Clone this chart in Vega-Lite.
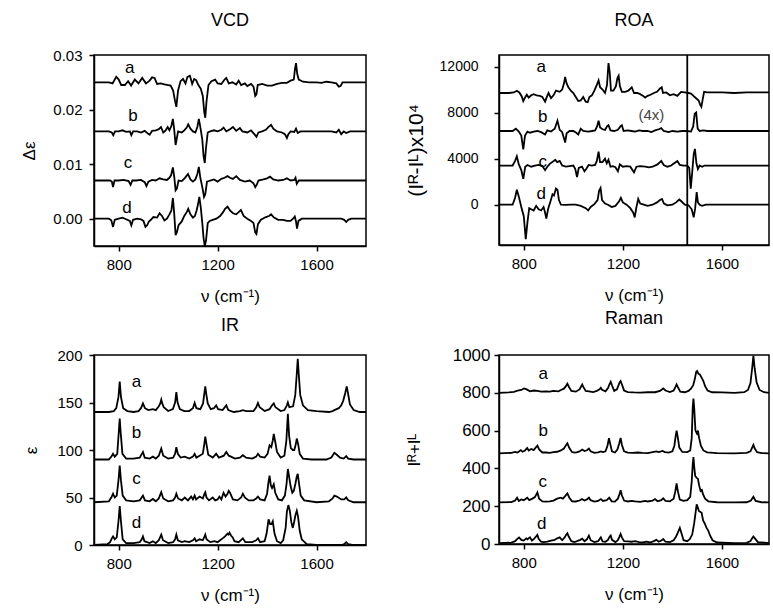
{
"$schema": "https://vega.github.io/schema/vega-lite/v6.json",
"background": "white",
"padding": {"left": 20, "top": 11, "right": 0, "bottom": 0},
"columns": 2,
"spacing": {"row": 109, "column": 133},
"bounds": "flush",
"config": {
 "font": "Liberation Sans",
 "view": {"stroke": "#000", "strokeWidth": 1.5},
 "axis": {"domain": true, "domainColor": "#000", "domainWidth": 1.5, "grid": false, "tickColor": "#000", "tickWidth": 1.5, "tickSize": 5, "labelColor": "#000", "labelFontSize": 15, "labelOverlap": false, "labelBound": false, "titleColor": "#000", "titleFontSize": 17, "titleFontWeight": "normal"},
 "axisX": {"labelPadding": 6, "titlePadding": 16},
 "axisY": {"labelPadding": 7, "titlePadding": 14},
 "title": {"fontSize": 18, "fontWeight": "normal", "color": "#000", "offset": 18},
 "line": {"color": "#000", "strokeWidth": 1.8, "clip": true},
 "text": {"color": "#000", "fontSize": 17}
},
"datasets": {
"vcd": [
{"s":"a","x":700,"y":0.025},{"s":"a","x":760,"y":0.025},{"s":"a","x":775,"y":0.0248},{"s":"a","x":790,"y":0.026},{"s":"a","x":800,"y":0.0255},{"s":"a","x":810,"y":0.0245},{"s":"a","x":825,"y":0.0245},{"s":"a","x":838,"y":0.0252},{"s":"a","x":850,"y":0.0244},{"s":"a","x":865,"y":0.0255},{"s":"a","x":880,"y":0.0248},{"s":"a","x":895,"y":0.0258},{"s":"a","x":910,"y":0.0248},{"s":"a","x":925,"y":0.0253},{"s":"a","x":935,"y":0.0259},{"s":"a","x":945,"y":0.0258},{"s":"a","x":955,"y":0.0247},{"s":"a","x":970,"y":0.0248},{"s":"a","x":985,"y":0.0246},{"s":"a","x":1000,"y":0.0245},{"s":"a","x":1010,"y":0.0244},{"s":"a","x":1020,"y":0.0235},{"s":"a","x":1028,"y":0.0215},{"s":"a","x":1033,"y":0.0205},{"s":"a","x":1040,"y":0.0235},{"s":"a","x":1050,"y":0.0252},{"s":"a","x":1060,"y":0.0256},{"s":"a","x":1070,"y":0.0248},{"s":"a","x":1078,"y":0.026},{"s":"a","x":1088,"y":0.0262},{"s":"a","x":1097,"y":0.0247},{"s":"a","x":1105,"y":0.0256},{"s":"a","x":1113,"y":0.0254},{"s":"a","x":1122,"y":0.0245},{"s":"a","x":1132,"y":0.0238},{"s":"a","x":1140,"y":0.0225},{"s":"a","x":1146,"y":0.0195},{"s":"a","x":1150,"y":0.0185},{"s":"a","x":1155,"y":0.0215},{"s":"a","x":1163,"y":0.0245},{"s":"a","x":1175,"y":0.0252},{"s":"a","x":1190,"y":0.0255},{"s":"a","x":1200,"y":0.0248},{"s":"a","x":1215,"y":0.0247},{"s":"a","x":1228,"y":0.0255},{"s":"a","x":1235,"y":0.0258},{"s":"a","x":1245,"y":0.0248},{"s":"a","x":1260,"y":0.025},{"s":"a","x":1275,"y":0.0246},{"s":"a","x":1285,"y":0.0253},{"s":"a","x":1295,"y":0.0245},{"s":"a","x":1310,"y":0.0248},{"s":"a","x":1320,"y":0.0243},{"s":"a","x":1335,"y":0.0247},{"s":"a","x":1345,"y":0.0242},{"s":"a","x":1352,"y":0.0225},{"s":"a","x":1357,"y":0.0228},{"s":"a","x":1362,"y":0.0245},{"s":"a","x":1380,"y":0.0247},{"s":"a","x":1400,"y":0.0244},{"s":"a","x":1420,"y":0.0244},{"s":"a","x":1440,"y":0.0247},{"s":"a","x":1460,"y":0.0249},{"s":"a","x":1480,"y":0.0249},{"s":"a","x":1495,"y":0.0253},{"s":"a","x":1508,"y":0.0255},{"s":"a","x":1513,"y":0.0275},{"s":"a","x":1517,"y":0.0285},{"s":"a","x":1522,"y":0.0265},{"s":"a","x":1528,"y":0.0255},{"s":"a","x":1545,"y":0.0251},{"s":"a","x":1570,"y":0.025},{"s":"a","x":1600,"y":0.025},{"s":"a","x":1620,"y":0.0249},{"s":"a","x":1640,"y":0.0251},{"s":"a","x":1660,"y":0.025},{"s":"a","x":1680,"y":0.0248},{"s":"a","x":1690,"y":0.0242},{"s":"a","x":1697,"y":0.0243},{"s":"a","x":1705,"y":0.025},{"s":"a","x":1740,"y":0.025},{"s":"a","x":1800,"y":0.025},
{"s":"b","x":700,"y":0.016},{"s":"b","x":760,"y":0.016},{"s":"b","x":772,"y":0.0158},{"s":"b","x":778,"y":0.0153},{"s":"b","x":785,"y":0.016},{"s":"b","x":800,"y":0.016},{"s":"b","x":815,"y":0.0162},{"s":"b","x":830,"y":0.0159},{"s":"b","x":845,"y":0.016},{"s":"b","x":851,"y":0.0153},{"s":"b","x":858,"y":0.016},{"s":"b","x":875,"y":0.016},{"s":"b","x":890,"y":0.0158},{"s":"b","x":905,"y":0.0161},{"s":"b","x":918,"y":0.0156},{"s":"b","x":925,"y":0.0154},{"s":"b","x":935,"y":0.0161},{"s":"b","x":950,"y":0.0162},{"s":"b","x":962,"y":0.0164},{"s":"b","x":971,"y":0.0168},{"s":"b","x":980,"y":0.0158},{"s":"b","x":990,"y":0.0162},{"s":"b","x":998,"y":0.0168},{"s":"b","x":1005,"y":0.0162},{"s":"b","x":1013,"y":0.017},{"s":"b","x":1019,"y":0.0183},{"s":"b","x":1024,"y":0.0165},{"s":"b","x":1030,"y":0.0135},{"s":"b","x":1034,"y":0.0145},{"s":"b","x":1040,"y":0.016},{"s":"b","x":1055,"y":0.0158},{"s":"b","x":1065,"y":0.0162},{"s":"b","x":1075,"y":0.0167},{"s":"b","x":1081,"y":0.0173},{"s":"b","x":1090,"y":0.0165},{"s":"b","x":1100,"y":0.016},{"s":"b","x":1110,"y":0.0158},{"s":"b","x":1118,"y":0.0168},{"s":"b","x":1124,"y":0.0183},{"s":"b","x":1130,"y":0.0168},{"s":"b","x":1138,"y":0.0145},{"s":"b","x":1143,"y":0.0115},{"s":"b","x":1148,"y":0.0102},{"s":"b","x":1153,"y":0.013},{"s":"b","x":1160,"y":0.0158},{"s":"b","x":1170,"y":0.016},{"s":"b","x":1185,"y":0.0162},{"s":"b","x":1200,"y":0.016},{"s":"b","x":1215,"y":0.0163},{"s":"b","x":1224,"y":0.0167},{"s":"b","x":1235,"y":0.016},{"s":"b","x":1250,"y":0.0164},{"s":"b","x":1262,"y":0.0168},{"s":"b","x":1275,"y":0.0161},{"s":"b","x":1290,"y":0.0166},{"s":"b","x":1300,"y":0.016},{"s":"b","x":1320,"y":0.0158},{"s":"b","x":1335,"y":0.0162},{"s":"b","x":1350,"y":0.0154},{"s":"b","x":1357,"y":0.015},{"s":"b","x":1365,"y":0.0158},{"s":"b","x":1380,"y":0.016},{"s":"b","x":1395,"y":0.0163},{"s":"b","x":1405,"y":0.0168},{"s":"b","x":1416,"y":0.0172},{"s":"b","x":1425,"y":0.0165},{"s":"b","x":1440,"y":0.016},{"s":"b","x":1460,"y":0.0158},{"s":"b","x":1472,"y":0.0155},{"s":"b","x":1480,"y":0.0148},{"s":"b","x":1486,"y":0.0155},{"s":"b","x":1495,"y":0.016},{"s":"b","x":1510,"y":0.0159},{"s":"b","x":1517,"y":0.0165},{"s":"b","x":1524,"y":0.0157},{"s":"b","x":1535,"y":0.016},{"s":"b","x":1600,"y":0.016},{"s":"b","x":1660,"y":0.016},{"s":"b","x":1680,"y":0.0158},{"s":"b","x":1690,"y":0.0163},{"s":"b","x":1700,"y":0.0155},{"s":"b","x":1710,"y":0.016},{"s":"b","x":1720,"y":0.0157},{"s":"b","x":1735,"y":0.016},{"s":"b","x":1800,"y":0.016},
{"s":"c","x":700,"y":0.007},{"s":"c","x":765,"y":0.007},{"s":"c","x":772,"y":0.0068},{"s":"c","x":777,"y":0.0058},{"s":"c","x":783,"y":0.007},{"s":"c","x":800,"y":0.007},{"s":"c","x":820,"y":0.0071},{"s":"c","x":840,"y":0.0069},{"s":"c","x":848,"y":0.0062},{"s":"c","x":855,"y":0.007},{"s":"c","x":870,"y":0.007},{"s":"c","x":890,"y":0.0071},{"s":"c","x":905,"y":0.0067},{"s":"c","x":912,"y":0.006},{"s":"c","x":920,"y":0.0068},{"s":"c","x":935,"y":0.0071},{"s":"c","x":950,"y":0.007},{"s":"c","x":965,"y":0.0074},{"s":"c","x":980,"y":0.0072},{"s":"c","x":995,"y":0.0071},{"s":"c","x":1005,"y":0.0075},{"s":"c","x":1012,"y":0.008},{"s":"c","x":1019,"y":0.0094},{"s":"c","x":1025,"y":0.0075},{"s":"c","x":1030,"y":0.0052},{"s":"c","x":1035,"y":0.0055},{"s":"c","x":1042,"y":0.007},{"s":"c","x":1055,"y":0.0069},{"s":"c","x":1068,"y":0.0075},{"s":"c","x":1080,"y":0.0082},{"s":"c","x":1090,"y":0.0072},{"s":"c","x":1100,"y":0.0068},{"s":"c","x":1110,"y":0.0072},{"s":"c","x":1118,"y":0.0082},{"s":"c","x":1124,"y":0.0095},{"s":"c","x":1130,"y":0.0075},{"s":"c","x":1138,"y":0.0058},{"s":"c","x":1145,"y":0.004},{"s":"c","x":1150,"y":0.0045},{"s":"c","x":1157,"y":0.0068},{"s":"c","x":1170,"y":0.007},{"s":"c","x":1185,"y":0.0072},{"s":"c","x":1200,"y":0.0068},{"s":"c","x":1215,"y":0.0073},{"s":"c","x":1228,"y":0.0075},{"s":"c","x":1240,"y":0.0078},{"s":"c","x":1250,"y":0.0075},{"s":"c","x":1262,"y":0.0073},{"s":"c","x":1275,"y":0.0078},{"s":"c","x":1290,"y":0.0071},{"s":"c","x":1310,"y":0.0068},{"s":"c","x":1330,"y":0.007},{"s":"c","x":1345,"y":0.0065},{"s":"c","x":1352,"y":0.0058},{"s":"c","x":1358,"y":0.0062},{"s":"c","x":1365,"y":0.007},{"s":"c","x":1385,"y":0.0072},{"s":"c","x":1400,"y":0.0074},{"s":"c","x":1412,"y":0.0077},{"s":"c","x":1425,"y":0.0072},{"s":"c","x":1445,"y":0.007},{"s":"c","x":1465,"y":0.0071},{"s":"c","x":1480,"y":0.0074},{"s":"c","x":1495,"y":0.007},{"s":"c","x":1510,"y":0.0071},{"s":"c","x":1515,"y":0.0075},{"s":"c","x":1520,"y":0.0064},{"s":"c","x":1528,"y":0.007},{"s":"c","x":1600,"y":0.007},{"s":"c","x":1800,"y":0.007},
{"s":"d","x":700,"y":0},{"s":"d","x":760,"y":0},{"s":"d","x":770,"y":-0.0003},{"s":"d","x":777,"y":-0.0015},{"s":"d","x":784,"y":-0.0002},{"s":"d","x":800,"y":0},{"s":"d","x":815,"y":0.0002},{"s":"d","x":830,"y":-0.0001},{"s":"d","x":845,"y":-0.0004},{"s":"d","x":851,"y":-0.0012},{"s":"d","x":858,"y":-0.0002},{"s":"d","x":875,"y":0},{"s":"d","x":890,"y":-0.0001},{"s":"d","x":900,"y":-0.0004},{"s":"d","x":908,"y":-0.0015},{"s":"d","x":915,"y":-0.0012},{"s":"d","x":922,"y":-0.0005},{"s":"d","x":930,"y":-0.0002},{"s":"d","x":940,"y":0.0003},{"s":"d","x":955,"y":0.0002},{"s":"d","x":965,"y":0.001},{"s":"d","x":975,"y":0.0005},{"s":"d","x":985,"y":-0.0003},{"s":"d","x":995,"y":0},{"s":"d","x":1005,"y":0.0008},{"s":"d","x":1013,"y":0.0015},{"s":"d","x":1019,"y":0.0038},{"s":"d","x":1024,"y":0.0012},{"s":"d","x":1030,"y":-0.003},{"s":"d","x":1035,"y":-0.0025},{"s":"d","x":1042,"y":-0.0012},{"s":"d","x":1055,"y":-0.0005},{"s":"d","x":1065,"y":0.0005},{"s":"d","x":1075,"y":0.0012},{"s":"d","x":1081,"y":0.0018},{"s":"d","x":1090,"y":0.0008},{"s":"d","x":1100,"y":0.0002},{"s":"d","x":1108,"y":0.0005},{"s":"d","x":1115,"y":0.0015},{"s":"d","x":1120,"y":0.0025},{"s":"d","x":1126,"y":0.004},{"s":"d","x":1132,"y":0.002},{"s":"d","x":1138,"y":-0.0008},{"s":"d","x":1143,"y":-0.0035},{"s":"d","x":1148,"y":-0.005},{"s":"d","x":1153,"y":-0.004},{"s":"d","x":1160,"y":-0.0008},{"s":"d","x":1168,"y":-0.0004},{"s":"d","x":1180,"y":-0.0002},{"s":"d","x":1195,"y":0},{"s":"d","x":1210,"y":0.0005},{"s":"d","x":1222,"y":0.0012},{"s":"d","x":1230,"y":0.0018},{"s":"d","x":1240,"y":0.0022},{"s":"d","x":1250,"y":0.0015},{"s":"d","x":1262,"y":0.001},{"s":"d","x":1275,"y":0.0008},{"s":"d","x":1285,"y":0.0012},{"s":"d","x":1294,"y":0.0016},{"s":"d","x":1305,"y":0.0005},{"s":"d","x":1320,"y":0},{"s":"d","x":1335,"y":-0.0004},{"s":"d","x":1345,"y":-0.0008},{"s":"d","x":1352,"y":-0.0025},{"s":"d","x":1357,"y":-0.0028},{"s":"d","x":1363,"y":-0.001},{"s":"d","x":1375,"y":-0.0002},{"s":"d","x":1395,"y":0.0003},{"s":"d","x":1408,"y":0.0005},{"s":"d","x":1416,"y":0.0008},{"s":"d","x":1428,"y":0.0002},{"s":"d","x":1445,"y":-0.0002},{"s":"d","x":1465,"y":-0.0002},{"s":"d","x":1480,"y":-0.0004},{"s":"d","x":1495,"y":-0.0004},{"s":"d","x":1505,"y":0},{"s":"d","x":1512,"y":0.0004},{"s":"d","x":1517,"y":-0.0005},{"s":"d","x":1521,"y":-0.0018},{"s":"d","x":1527,"y":-0.0004},{"s":"d","x":1540,"y":0},{"s":"d","x":1600,"y":0},{"s":"d","x":1700,"y":0},{"s":"d","x":1712,"y":-0.0002},{"s":"d","x":1720,"y":-0.0006},{"s":"d","x":1728,"y":-0.0002},{"s":"d","x":1740,"y":0},{"s":"d","x":1800,"y":0}
],
"roa": [
{"s":"a","x":700,"y":9700},{"s":"a","x":740,"y":9700},{"s":"a","x":760,"y":9750},{"s":"a","x":772,"y":9900},{"s":"a","x":782,"y":9750},{"s":"a","x":792,"y":9400},{"s":"a","x":798,"y":9000},{"s":"a","x":805,"y":9300},{"s":"a","x":812,"y":9550},{"s":"a","x":820,"y":9300},{"s":"a","x":830,"y":9500},{"s":"a","x":840,"y":9600},{"s":"a","x":852,"y":9500},{"s":"a","x":865,"y":9450},{"s":"a","x":875,"y":9350},{"s":"a","x":886,"y":8950},{"s":"a","x":892,"y":9300},{"s":"a","x":900,"y":9700},{"s":"a","x":910,"y":9250},{"s":"a","x":920,"y":9500},{"s":"a","x":930,"y":9900},{"s":"a","x":945,"y":9800},{"s":"a","x":955,"y":10000},{"s":"a","x":962,"y":10500},{"s":"a","x":967,"y":11100},{"s":"a","x":972,"y":10600},{"s":"a","x":980,"y":10200},{"s":"a","x":990,"y":9900},{"s":"a","x":1000,"y":9700},{"s":"a","x":1010,"y":9350},{"s":"a","x":1020,"y":9000},{"s":"a","x":1030,"y":9050},{"s":"a","x":1040,"y":9350},{"s":"a","x":1050,"y":8950},{"s":"a","x":1058,"y":8900},{"s":"a","x":1065,"y":9350},{"s":"a","x":1075,"y":9500},{"s":"a","x":1085,"y":9900},{"s":"a","x":1095,"y":10400},{"s":"a","x":1102,"y":10800},{"s":"a","x":1108,"y":10200},{"s":"a","x":1118,"y":10000},{"s":"a","x":1128,"y":9700},{"s":"a","x":1136,"y":10400},{"s":"a","x":1142,"y":12300},{"s":"a","x":1147,"y":11500},{"s":"a","x":1152,"y":9900},{"s":"a","x":1162,"y":9900},{"s":"a","x":1172,"y":10300},{"s":"a","x":1178,"y":11000},{"s":"a","x":1183,"y":11200},{"s":"a","x":1188,"y":10300},{"s":"a","x":1196,"y":9800},{"s":"a","x":1210,"y":9800},{"s":"a","x":1222,"y":9900},{"s":"a","x":1236,"y":10200},{"s":"a","x":1245,"y":9700},{"s":"a","x":1258,"y":9700},{"s":"a","x":1270,"y":9600},{"s":"a","x":1282,"y":9450},{"s":"a","x":1290,"y":9300},{"s":"a","x":1300,"y":9450},{"s":"a","x":1312,"y":9550},{"s":"a","x":1325,"y":9700},{"s":"a","x":1338,"y":9800},{"s":"a","x":1350,"y":10100},{"s":"a","x":1357,"y":10200},{"s":"a","x":1362,"y":9700},{"s":"a","x":1375,"y":9750},{"s":"a","x":1390,"y":9500},{"s":"a","x":1405,"y":9600},{"s":"a","x":1420,"y":9450},{"s":"a","x":1435,"y":9800},{"s":"a","x":1450,"y":9750},{"s":"a","x":1465,"y":9700},{"s":"a","x":1475,"y":9650},{"s":"a","x":1483,"y":9500},{"s":"a","x":1490,"y":9350},{"s":"a","x":1498,"y":9200},{"s":"a","x":1506,"y":9050},{"s":"a","x":1512,"y":8700},{"s":"a","x":1517,"y":8500},{"s":"a","x":1522,"y":9100},{"s":"a","x":1528,"y":9800},{"s":"a","x":1540,"y":9750},{"s":"a","x":1600,"y":9750},{"s":"a","x":1650,"y":9700},{"s":"a","x":1700,"y":9750},{"s":"a","x":1790,"y":9750},
{"s":"b","x":700,"y":6400},{"s":"b","x":755,"y":6400},{"s":"b","x":768,"y":6600},{"s":"b","x":780,"y":6350},{"s":"b","x":790,"y":6000},{"s":"b","x":798,"y":4800},{"s":"b","x":805,"y":6000},{"s":"b","x":815,"y":6350},{"s":"b","x":825,"y":6250},{"s":"b","x":840,"y":6350},{"s":"b","x":855,"y":6400},{"s":"b","x":870,"y":6300},{"s":"b","x":886,"y":6100},{"s":"b","x":895,"y":6450},{"s":"b","x":910,"y":6350},{"s":"b","x":925,"y":6600},{"s":"b","x":936,"y":7300},{"s":"b","x":945,"y":6500},{"s":"b","x":955,"y":6300},{"s":"b","x":962,"y":5800},{"s":"b","x":967,"y":5400},{"s":"b","x":973,"y":6200},{"s":"b","x":985,"y":6400},{"s":"b","x":1000,"y":6400},{"s":"b","x":1012,"y":6250},{"s":"b","x":1020,"y":6100},{"s":"b","x":1030,"y":6600},{"s":"b","x":1040,"y":6400},{"s":"b","x":1060,"y":6350},{"s":"b","x":1075,"y":6400},{"s":"b","x":1088,"y":6450},{"s":"b","x":1096,"y":6800},{"s":"b","x":1102,"y":7300},{"s":"b","x":1108,"y":6700},{"s":"b","x":1118,"y":6550},{"s":"b","x":1128,"y":6500},{"s":"b","x":1136,"y":6800},{"s":"b","x":1142,"y":6900},{"s":"b","x":1150,"y":6450},{"s":"b","x":1165,"y":6400},{"s":"b","x":1180,"y":6500},{"s":"b","x":1190,"y":6800},{"s":"b","x":1196,"y":6900},{"s":"b","x":1203,"y":6400},{"s":"b","x":1220,"y":6450},{"s":"b","x":1235,"y":6400},{"s":"b","x":1250,"y":6350},{"s":"b","x":1265,"y":6450},{"s":"b","x":1280,"y":6400},{"s":"b","x":1300,"y":6400},{"s":"b","x":1315,"y":6300},{"s":"b","x":1330,"y":6450},{"s":"b","x":1345,"y":6550},{"s":"b","x":1355,"y":6650},{"s":"b","x":1365,"y":6400},{"s":"b","x":1385,"y":6300},{"s":"b","x":1400,"y":6400},{"s":"b","x":1420,"y":6350},{"s":"b","x":1440,"y":6400},{"s":"b","x":1460,"y":6400},{"s":"b","x":1475,"y":6350},{"s":"b","x":1484,"y":6800},{"s":"b","x":1490,"y":7900},{"s":"b","x":1496,"y":8000},{"s":"b","x":1502,"y":6600},{"s":"b","x":1510,"y":6400},{"s":"b","x":1525,"y":6450},{"s":"b","x":1540,"y":6400},{"s":"b","x":1790,"y":6400},
{"s":"c","x":700,"y":3400},{"s":"c","x":755,"y":3400},{"s":"c","x":765,"y":3800},{"s":"c","x":772,"y":4200},{"s":"c","x":780,"y":3500},{"s":"c","x":790,"y":3000},{"s":"c","x":798,"y":2250},{"s":"c","x":806,"y":3300},{"s":"c","x":815,"y":3450},{"s":"c","x":830,"y":3300},{"s":"c","x":845,"y":3400},{"s":"c","x":860,"y":3450},{"s":"c","x":875,"y":3350},{"s":"c","x":886,"y":3000},{"s":"c","x":895,"y":3300},{"s":"c","x":905,"y":3550},{"s":"c","x":915,"y":3700},{"s":"c","x":927,"y":3900},{"s":"c","x":935,"y":3700},{"s":"c","x":945,"y":3800},{"s":"c","x":955,"y":3400},{"s":"c","x":970,"y":3300},{"s":"c","x":985,"y":3350},{"s":"c","x":1000,"y":3400},{"s":"c","x":1008,"y":3100},{"s":"c","x":1015,"y":2400},{"s":"c","x":1022,"y":3200},{"s":"c","x":1035,"y":3300},{"s":"c","x":1045,"y":2900},{"s":"c","x":1052,"y":3100},{"s":"c","x":1062,"y":3450},{"s":"c","x":1075,"y":3400},{"s":"c","x":1088,"y":3450},{"s":"c","x":1095,"y":3800},{"s":"c","x":1102,"y":4600},{"s":"c","x":1108,"y":3700},{"s":"c","x":1118,"y":3700},{"s":"c","x":1128,"y":4000},{"s":"c","x":1135,"y":3600},{"s":"c","x":1142,"y":3900},{"s":"c","x":1150,"y":3300},{"s":"c","x":1160,"y":3350},{"s":"c","x":1170,"y":3250},{"s":"c","x":1180,"y":2900},{"s":"c","x":1188,"y":3500},{"s":"c","x":1200,"y":3300},{"s":"c","x":1215,"y":3350},{"s":"c","x":1230,"y":3300},{"s":"c","x":1245,"y":2800},{"s":"c","x":1255,"y":3300},{"s":"c","x":1270,"y":3350},{"s":"c","x":1290,"y":3300},{"s":"c","x":1305,"y":3250},{"s":"c","x":1320,"y":3300},{"s":"c","x":1340,"y":3500},{"s":"c","x":1355,"y":3800},{"s":"c","x":1365,"y":3450},{"s":"c","x":1380,"y":3300},{"s":"c","x":1395,"y":3400},{"s":"c","x":1410,"y":3650},{"s":"c","x":1420,"y":3800},{"s":"c","x":1430,"y":3450},{"s":"c","x":1445,"y":3400},{"s":"c","x":1460,"y":3400},{"s":"c","x":1468,"y":3200},{"s":"c","x":1474,"y":1400},{"s":"c","x":1480,"y":2800},{"s":"c","x":1486,"y":4400},{"s":"c","x":1491,"y":4850},{"s":"c","x":1497,"y":3600},{"s":"c","x":1503,"y":3100},{"s":"c","x":1510,"y":3400},{"s":"c","x":1520,"y":3300},{"s":"c","x":1530,"y":3400},{"s":"c","x":1790,"y":3400},
{"s":"d","x":700,"y":0},{"s":"d","x":755,"y":0},{"s":"d","x":765,"y":600},{"s":"d","x":772,"y":1300},{"s":"d","x":780,"y":700},{"s":"d","x":790,"y":-200},{"s":"d","x":800,"y":-1000},{"s":"d","x":808,"y":-3000},{"s":"d","x":815,"y":-1500},{"s":"d","x":822,"y":-300},{"s":"d","x":830,"y":-400},{"s":"d","x":840,"y":-500},{"s":"d","x":850,"y":-100},{"s":"d","x":860,"y":-400},{"s":"d","x":870,"y":-500},{"s":"d","x":880,"y":-200},{"s":"d","x":885,"y":-600},{"s":"d","x":891,"y":-1200},{"s":"d","x":898,"y":-400},{"s":"d","x":908,"y":300},{"s":"d","x":916,"y":900},{"s":"d","x":922,"y":800},{"s":"d","x":930,"y":1400},{"s":"d","x":936,"y":1300},{"s":"d","x":942,"y":400},{"s":"d","x":950,"y":0},{"s":"d","x":970,"y":-20},{"s":"d","x":990,"y":0},{"s":"d","x":1010,"y":0},{"s":"d","x":1030,"y":-100},{"s":"d","x":1050,"y":-300},{"s":"d","x":1060,"y":-500},{"s":"d","x":1070,"y":-200},{"s":"d","x":1085,"y":50},{"s":"d","x":1098,"y":400},{"s":"d","x":1104,"y":1200},{"s":"d","x":1110,"y":1450},{"s":"d","x":1116,"y":400},{"s":"d","x":1128,"y":100},{"s":"d","x":1140,"y":0},{"s":"d","x":1155,"y":-200},{"s":"d","x":1170,"y":-100},{"s":"d","x":1185,"y":300},{"s":"d","x":1192,"y":600},{"s":"d","x":1200,"y":200},{"s":"d","x":1215,"y":0},{"s":"d","x":1230,"y":-300},{"s":"d","x":1242,"y":-700},{"s":"d","x":1248,"y":-1100},{"s":"d","x":1254,"y":-300},{"s":"d","x":1262,"y":500},{"s":"d","x":1270,"y":100},{"s":"d","x":1285,"y":0},{"s":"d","x":1300,"y":-100},{"s":"d","x":1320,"y":0},{"s":"d","x":1338,"y":200},{"s":"d","x":1350,"y":400},{"s":"d","x":1358,"y":500},{"s":"d","x":1366,"y":100},{"s":"d","x":1380,"y":-50},{"s":"d","x":1400,"y":0},{"s":"d","x":1415,"y":200},{"s":"d","x":1428,"y":450},{"s":"d","x":1436,"y":300},{"s":"d","x":1450,"y":0},{"s":"d","x":1465,"y":-50},{"s":"d","x":1478,"y":-400},{"s":"d","x":1486,"y":-1100},{"s":"d","x":1492,"y":-300},{"s":"d","x":1498,"y":1100},{"s":"d","x":1503,"y":200},{"s":"d","x":1510,"y":0},{"s":"d","x":1520,"y":-100},{"s":"d","x":1535,"y":0},{"s":"d","x":1790,"y":0}
],
"ir": [
{"s":"a","x":700,"y":140},{"s":"a","x":760,"y":140},{"s":"a","x":780,"y":141},{"s":"a","x":790,"y":144},{"s":"a","x":799,"y":156},{"s":"a","x":804,"y":172},{"s":"a","x":809,"y":156},{"s":"a","x":818,"y":144},{"s":"a","x":835,"y":141},{"s":"a","x":860,"y":140},{"s":"a","x":880,"y":141},{"s":"a","x":890,"y":144},{"s":"a","x":898,"y":149},{"s":"a","x":906,"y":144},{"s":"a","x":920,"y":142},{"s":"a","x":938,"y":143},{"s":"a","x":950,"y":142},{"s":"a","x":962,"y":146},{"s":"a","x":968,"y":149},{"s":"a","x":972,"y":153},{"s":"a","x":976,"y":149},{"s":"a","x":982,"y":145},{"s":"a","x":1000,"y":141},{"s":"a","x":1019,"y":143},{"s":"a","x":1028,"y":150},{"s":"a","x":1033,"y":161},{"s":"a","x":1038,"y":150},{"s":"a","x":1047,"y":143},{"s":"a","x":1065,"y":141},{"s":"a","x":1085,"y":141},{"s":"a","x":1100,"y":144},{"s":"a","x":1107,"y":149.5},{"s":"a","x":1114,"y":144},{"s":"a","x":1130,"y":143},{"s":"a","x":1141,"y":149},{"s":"a","x":1146,"y":159},{"s":"a","x":1150,"y":167},{"s":"a","x":1154,"y":159},{"s":"a","x":1160,"y":149},{"s":"a","x":1172,"y":143},{"s":"a","x":1185,"y":144},{"s":"a","x":1194,"y":147},{"s":"a","x":1202,"y":143},{"s":"a","x":1220,"y":142},{"s":"a","x":1235,"y":147},{"s":"a","x":1243,"y":142},{"s":"a","x":1265,"y":140},{"s":"a","x":1290,"y":141},{"s":"a","x":1302,"y":142},{"s":"a","x":1315,"y":141},{"s":"a","x":1345,"y":141},{"s":"a","x":1356,"y":145},{"s":"a","x":1363,"y":149.5},{"s":"a","x":1370,"y":145},{"s":"a","x":1390,"y":141},{"s":"a","x":1410,"y":143},{"s":"a","x":1420,"y":147},{"s":"a","x":1427,"y":149},{"s":"a","x":1434,"y":145},{"s":"a","x":1455,"y":141},{"s":"a","x":1470,"y":142},{"s":"a","x":1480,"y":147},{"s":"a","x":1484,"y":150},{"s":"a","x":1490,"y":145},{"s":"a","x":1505,"y":146},{"s":"a","x":1514,"y":158},{"s":"a","x":1520,"y":180},{"s":"a","x":1524,"y":196},{"s":"a","x":1528,"y":180},{"s":"a","x":1534,"y":158},{"s":"a","x":1545,"y":147},{"s":"a","x":1565,"y":142},{"s":"a","x":1600,"y":141},{"s":"a","x":1650,"y":140},{"s":"a","x":1665,"y":141},{"s":"a","x":1672,"y":142},{"s":"a","x":1690,"y":144},{"s":"a","x":1700,"y":147},{"s":"a","x":1708,"y":152},{"s":"a","x":1716,"y":160},{"s":"a","x":1722,"y":167},{"s":"a","x":1727,"y":160},{"s":"a","x":1735,"y":148},{"s":"a","x":1750,"y":142},{"s":"a","x":1775,"y":140},{"s":"a","x":1800,"y":140},
{"s":"b","x":700,"y":90},{"s":"b","x":760,"y":90},{"s":"b","x":770,"y":93},{"s":"b","x":777,"y":96},{"s":"b","x":784,"y":93},{"s":"b","x":794,"y":96},{"s":"b","x":800,"y":118},{"s":"b","x":804,"y":133},{"s":"b","x":808,"y":118},{"s":"b","x":815,"y":96},{"s":"b","x":830,"y":91},{"s":"b","x":860,"y":91},{"s":"b","x":885,"y":92},{"s":"b","x":898,"y":98},{"s":"b","x":905,"y":92},{"s":"b","x":925,"y":91},{"s":"b","x":938,"y":93},{"s":"b","x":950,"y":91},{"s":"b","x":962,"y":94},{"s":"b","x":972,"y":101.5},{"s":"b","x":980,"y":94},{"s":"b","x":1000,"y":91},{"s":"b","x":1020,"y":92},{"s":"b","x":1028,"y":96},{"s":"b","x":1033,"y":103},{"s":"b","x":1039,"y":96},{"s":"b","x":1050,"y":92},{"s":"b","x":1067,"y":93},{"s":"b","x":1085,"y":91},{"s":"b","x":1100,"y":93},{"s":"b","x":1107,"y":96},{"s":"b","x":1114,"y":92},{"s":"b","x":1127,"y":94},{"s":"b","x":1140,"y":96},{"s":"b","x":1146,"y":106},{"s":"b","x":1150,"y":114},{"s":"b","x":1155,"y":106},{"s":"b","x":1162,"y":95},{"s":"b","x":1180,"y":92},{"s":"b","x":1194,"y":96},{"s":"b","x":1205,"y":92},{"s":"b","x":1225,"y":94},{"s":"b","x":1235,"y":98},{"s":"b","x":1245,"y":94},{"s":"b","x":1254,"y":93},{"s":"b","x":1270,"y":91},{"s":"b","x":1290,"y":92},{"s":"b","x":1302,"y":94.5},{"s":"b","x":1315,"y":92},{"s":"b","x":1340,"y":91},{"s":"b","x":1356,"y":93},{"s":"b","x":1363,"y":96},{"s":"b","x":1372,"y":93},{"s":"b","x":1390,"y":92},{"s":"b","x":1402,"y":96},{"s":"b","x":1410,"y":105},{"s":"b","x":1417,"y":103},{"s":"b","x":1423,"y":110},{"s":"b","x":1427,"y":117},{"s":"b","x":1432,"y":110},{"s":"b","x":1440,"y":98},{"s":"b","x":1455,"y":92},{"s":"b","x":1470,"y":94},{"s":"b","x":1478,"y":110},{"s":"b","x":1484,"y":138},{"s":"b","x":1489,"y":115},{"s":"b","x":1496,"y":102},{"s":"b","x":1504,"y":100},{"s":"b","x":1510,"y":100},{"s":"b","x":1516,"y":106},{"s":"b","x":1520,"y":112},{"s":"b","x":1525,"y":107},{"s":"b","x":1532,"y":96},{"s":"b","x":1545,"y":91},{"s":"b","x":1580,"y":90},{"s":"b","x":1640,"y":90},{"s":"b","x":1660,"y":92},{"s":"b","x":1672,"y":97},{"s":"b","x":1682,"y":95},{"s":"b","x":1695,"y":92},{"s":"b","x":1710,"y":91},{"s":"b","x":1720,"y":93.5},{"s":"b","x":1728,"y":91},{"s":"b","x":1750,"y":90},{"s":"b","x":1800,"y":90},
{"s":"c","x":700,"y":45},{"s":"c","x":760,"y":46},{"s":"c","x":770,"y":50},{"s":"c","x":777,"y":54},{"s":"c","x":784,"y":50},{"s":"c","x":792,"y":52},{"s":"c","x":799,"y":68},{"s":"c","x":804,"y":83.5},{"s":"c","x":809,"y":68},{"s":"c","x":816,"y":52},{"s":"c","x":830,"y":47},{"s":"c","x":860,"y":46},{"s":"c","x":885,"y":47},{"s":"c","x":898,"y":52},{"s":"c","x":906,"y":47},{"s":"c","x":925,"y":46},{"s":"c","x":938,"y":48.5},{"s":"c","x":950,"y":46},{"s":"c","x":962,"y":49},{"s":"c","x":972,"y":55.5},{"s":"c","x":980,"y":49},{"s":"c","x":1000,"y":46},{"s":"c","x":1020,"y":47},{"s":"c","x":1028,"y":50},{"s":"c","x":1033,"y":54},{"s":"c","x":1040,"y":49},{"s":"c","x":1055,"y":47},{"s":"c","x":1067,"y":50},{"s":"c","x":1080,"y":47},{"s":"c","x":1093,"y":51},{"s":"c","x":1100,"y":48},{"s":"c","x":1107,"y":52},{"s":"c","x":1113,"y":48},{"s":"c","x":1127,"y":51},{"s":"c","x":1140,"y":49},{"s":"c","x":1147,"y":54},{"s":"c","x":1150,"y":55.5},{"s":"c","x":1155,"y":50},{"s":"c","x":1165,"y":47},{"s":"c","x":1180,"y":50},{"s":"c","x":1190,"y":47},{"s":"c","x":1200,"y":48},{"s":"c","x":1207,"y":51},{"s":"c","x":1215,"y":48},{"s":"c","x":1224,"y":55},{"s":"c","x":1232,"y":51},{"s":"c","x":1240,"y":54},{"s":"c","x":1245,"y":57},{"s":"c","x":1250,"y":55},{"s":"c","x":1255,"y":52},{"s":"c","x":1262,"y":48},{"s":"c","x":1280,"y":47},{"s":"c","x":1295,"y":50},{"s":"c","x":1302,"y":54},{"s":"c","x":1310,"y":50},{"s":"c","x":1325,"y":47},{"s":"c","x":1345,"y":47},{"s":"c","x":1356,"y":49},{"s":"c","x":1363,"y":51},{"s":"c","x":1372,"y":48},{"s":"c","x":1390,"y":47},{"s":"c","x":1400,"y":54},{"s":"c","x":1405,"y":65},{"s":"c","x":1410,"y":73},{"s":"c","x":1415,"y":63},{"s":"c","x":1420,"y":60},{"s":"c","x":1427,"y":64},{"s":"c","x":1433,"y":55},{"s":"c","x":1445,"y":48},{"s":"c","x":1460,"y":47},{"s":"c","x":1472,"y":52},{"s":"c","x":1479,"y":65},{"s":"c","x":1484,"y":80},{"s":"c","x":1489,"y":72},{"s":"c","x":1495,"y":62},{"s":"c","x":1502,"y":55},{"s":"c","x":1508,"y":57},{"s":"c","x":1515,"y":65},{"s":"c","x":1520,"y":72},{"s":"c","x":1524,"y":75},{"s":"c","x":1529,"y":65},{"s":"c","x":1536,"y":52},{"s":"c","x":1550,"y":47},{"s":"c","x":1600,"y":45},{"s":"c","x":1650,"y":46},{"s":"c","x":1665,"y":49},{"s":"c","x":1672,"y":52},{"s":"c","x":1682,"y":51},{"s":"c","x":1700,"y":48},{"s":"c","x":1712,"y":48},{"s":"c","x":1720,"y":50},{"s":"c","x":1728,"y":47},{"s":"c","x":1750,"y":45},{"s":"c","x":1800,"y":45},
{"s":"d","x":700,"y":0},{"s":"d","x":755,"y":1},{"s":"d","x":765,"y":3},{"s":"d","x":772,"y":7},{"s":"d","x":777,"y":9},{"s":"d","x":784,"y":6},{"s":"d","x":792,"y":8},{"s":"d","x":799,"y":25},{"s":"d","x":804,"y":41},{"s":"d","x":809,"y":25},{"s":"d","x":816,"y":6},{"s":"d","x":830,"y":2},{"s":"d","x":860,"y":2},{"s":"d","x":885,"y":3},{"s":"d","x":893,"y":6},{"s":"d","x":898,"y":9},{"s":"d","x":904,"y":4},{"s":"d","x":925,"y":2},{"s":"d","x":938,"y":4},{"s":"d","x":950,"y":2},{"s":"d","x":962,"y":5},{"s":"d","x":972,"y":11},{"s":"d","x":979,"y":5},{"s":"d","x":1000,"y":2},{"s":"d","x":1020,"y":3},{"s":"d","x":1028,"y":6},{"s":"d","x":1033,"y":11},{"s":"d","x":1039,"y":5},{"s":"d","x":1055,"y":3},{"s":"d","x":1067,"y":4},{"s":"d","x":1085,"y":3},{"s":"d","x":1100,"y":5},{"s":"d","x":1107,"y":7},{"s":"d","x":1113,"y":4},{"s":"d","x":1127,"y":6},{"s":"d","x":1140,"y":5},{"s":"d","x":1147,"y":9},{"s":"d","x":1150,"y":11},{"s":"d","x":1155,"y":6},{"s":"d","x":1170,"y":3},{"s":"d","x":1187,"y":4},{"s":"d","x":1200,"y":3},{"s":"d","x":1210,"y":5},{"s":"d","x":1220,"y":7},{"s":"d","x":1230,"y":9},{"s":"d","x":1240,"y":12},{"s":"d","x":1244,"y":11},{"s":"d","x":1248,"y":13},{"s":"d","x":1254,"y":10},{"s":"d","x":1261,"y":8},{"s":"d","x":1268,"y":4},{"s":"d","x":1285,"y":3},{"s":"d","x":1302,"y":7},{"s":"d","x":1312,"y":3},{"s":"d","x":1340,"y":3},{"s":"d","x":1356,"y":5},{"s":"d","x":1363,"y":7},{"s":"d","x":1372,"y":3},{"s":"d","x":1390,"y":4},{"s":"d","x":1398,"y":12},{"s":"d","x":1406,"y":27},{"s":"d","x":1412,"y":22},{"s":"d","x":1418,"y":22},{"s":"d","x":1423,"y":25},{"s":"d","x":1430,"y":12},{"s":"d","x":1440,"y":4},{"s":"d","x":1455,"y":2},{"s":"d","x":1465,"y":5},{"s":"d","x":1475,"y":18},{"s":"d","x":1480,"y":35},{"s":"d","x":1486,"y":42},{"s":"d","x":1492,"y":36},{"s":"d","x":1498,"y":24},{"s":"d","x":1504,"y":18},{"s":"d","x":1510,"y":25},{"s":"d","x":1515,"y":32},{"s":"d","x":1520,"y":36},{"s":"d","x":1525,"y":30},{"s":"d","x":1532,"y":15},{"s":"d","x":1540,"y":6},{"s":"d","x":1560,"y":1},{"s":"d","x":1600,"y":0},{"s":"d","x":1700,"y":0},{"s":"d","x":1712,"y":1},{"s":"d","x":1720,"y":3},{"s":"d","x":1728,"y":1},{"s":"d","x":1745,"y":0},{"s":"d","x":1800,"y":0}
],
"raman": [
{"s":"a","x":700,"y":800},{"s":"a","x":740,"y":802},{"s":"a","x":760,"y":805},{"s":"a","x":775,"y":812},{"s":"a","x":790,"y":815},{"s":"a","x":801,"y":823},{"s":"a","x":812,"y":818},{"s":"a","x":825,"y":808},{"s":"a","x":840,"y":812},{"s":"a","x":855,"y":810},{"s":"a","x":870,"y":806},{"s":"a","x":890,"y":808},{"s":"a","x":905,"y":806},{"s":"a","x":920,"y":810},{"s":"a","x":940,"y":808},{"s":"a","x":950,"y":815},{"s":"a","x":962,"y":822},{"s":"a","x":970,"y":835},{"s":"a","x":976,"y":848},{"s":"a","x":982,"y":832},{"s":"a","x":992,"y":810},{"s":"a","x":1010,"y":806},{"s":"a","x":1025,"y":818},{"s":"a","x":1031,"y":832},{"s":"a","x":1036,"y":844},{"s":"a","x":1041,"y":830},{"s":"a","x":1050,"y":810},{"s":"a","x":1063,"y":808},{"s":"a","x":1080,"y":804},{"s":"a","x":1095,"y":810},{"s":"a","x":1106,"y":818},{"s":"a","x":1111,"y":826},{"s":"a","x":1116,"y":816},{"s":"a","x":1130,"y":808},{"s":"a","x":1140,"y":825},{"s":"a","x":1146,"y":845},{"s":"a","x":1151,"y":858},{"s":"a","x":1156,"y":840},{"s":"a","x":1165,"y":810},{"s":"a","x":1176,"y":818},{"s":"a","x":1182,"y":838},{"s":"a","x":1187,"y":855},{"s":"a","x":1191,"y":862},{"s":"a","x":1196,"y":845},{"s":"a","x":1205,"y":812},{"s":"a","x":1220,"y":804},{"s":"a","x":1245,"y":802},{"s":"a","x":1270,"y":801},{"s":"a","x":1300,"y":803},{"s":"a","x":1330,"y":803},{"s":"a","x":1350,"y":810},{"s":"a","x":1363,"y":823},{"s":"a","x":1372,"y":812},{"s":"a","x":1390,"y":804},{"s":"a","x":1405,"y":812},{"s":"a","x":1412,"y":830},{"s":"a","x":1417,"y":844},{"s":"a","x":1422,"y":830},{"s":"a","x":1432,"y":806},{"s":"a","x":1450,"y":803},{"s":"a","x":1465,"y":810},{"s":"a","x":1475,"y":822},{"s":"a","x":1484,"y":840},{"s":"a","x":1490,"y":870},{"s":"a","x":1496,"y":910},{"s":"a","x":1500,"y":915},{"s":"a","x":1505,"y":900},{"s":"a","x":1511,"y":897},{"s":"a","x":1518,"y":880},{"s":"a","x":1525,"y":862},{"s":"a","x":1532,"y":835},{"s":"a","x":1542,"y":812},{"s":"a","x":1560,"y":803},{"s":"a","x":1600,"y":802},{"s":"a","x":1650,"y":800},{"s":"a","x":1690,"y":803},{"s":"a","x":1705,"y":815},{"s":"a","x":1715,"y":850},{"s":"a","x":1722,"y":930},{"s":"a","x":1727,"y":995},{"s":"a","x":1732,"y":930},{"s":"a","x":1740,"y":855},{"s":"a","x":1752,"y":815},{"s":"a","x":1770,"y":803},{"s":"a","x":1790,"y":800},
{"s":"b","x":700,"y":480},{"s":"b","x":750,"y":482},{"s":"b","x":765,"y":487},{"s":"b","x":775,"y":484},{"s":"b","x":788,"y":497},{"s":"b","x":795,"y":488},{"s":"b","x":805,"y":495},{"s":"b","x":814,"y":508},{"s":"b","x":820,"y":495},{"s":"b","x":830,"y":503},{"s":"b","x":840,"y":497},{"s":"b","x":848,"y":510},{"s":"b","x":855,"y":520},{"s":"b","x":862,"y":500},{"s":"b","x":875,"y":484},{"s":"b","x":890,"y":484},{"s":"b","x":905,"y":482},{"s":"b","x":920,"y":486},{"s":"b","x":935,"y":488},{"s":"b","x":950,"y":495},{"s":"b","x":962,"y":505},{"s":"b","x":969,"y":520},{"s":"b","x":976,"y":533},{"s":"b","x":983,"y":510},{"s":"b","x":995,"y":486},{"s":"b","x":1010,"y":484},{"s":"b","x":1025,"y":490},{"s":"b","x":1036,"y":500},{"s":"b","x":1045,"y":492},{"s":"b","x":1055,"y":496},{"s":"b","x":1063,"y":505},{"s":"b","x":1070,"y":490},{"s":"b","x":1085,"y":482},{"s":"b","x":1100,"y":485},{"s":"b","x":1111,"y":490},{"s":"b","x":1120,"y":486},{"s":"b","x":1130,"y":490},{"s":"b","x":1138,"y":520},{"s":"b","x":1144,"y":560},{"s":"b","x":1149,"y":530},{"s":"b","x":1156,"y":490},{"s":"b","x":1168,"y":484},{"s":"b","x":1178,"y":500},{"s":"b","x":1185,"y":530},{"s":"b","x":1191,"y":561},{"s":"b","x":1196,"y":525},{"s":"b","x":1205,"y":490},{"s":"b","x":1220,"y":484},{"s":"b","x":1240,"y":482},{"s":"b","x":1260,"y":484},{"s":"b","x":1280,"y":482},{"s":"b","x":1300,"y":481},{"s":"b","x":1320,"y":486},{"s":"b","x":1335,"y":490},{"s":"b","x":1345,"y":486},{"s":"b","x":1360,"y":492},{"s":"b","x":1370,"y":486},{"s":"b","x":1385,"y":484},{"s":"b","x":1400,"y":490},{"s":"b","x":1408,"y":520},{"s":"b","x":1413,"y":570},{"s":"b","x":1417,"y":600},{"s":"b","x":1421,"y":570},{"s":"b","x":1428,"y":510},{"s":"b","x":1440,"y":487},{"s":"b","x":1460,"y":486},{"s":"b","x":1472,"y":495},{"s":"b","x":1478,"y":560},{"s":"b","x":1482,"y":720},{"s":"b","x":1485,"y":770},{"s":"b","x":1488,"y":720},{"s":"b","x":1493,"y":600},{"s":"b","x":1499,"y":585},{"s":"b","x":1503,"y":600},{"s":"b","x":1508,"y":560},{"s":"b","x":1515,"y":520},{"s":"b","x":1525,"y":495},{"s":"b","x":1540,"y":485},{"s":"b","x":1580,"y":481},{"s":"b","x":1650,"y":480},{"s":"b","x":1700,"y":482},{"s":"b","x":1715,"y":490},{"s":"b","x":1722,"y":510},{"s":"b","x":1727,"y":524},{"s":"b","x":1732,"y":506},{"s":"b","x":1742,"y":486},{"s":"b","x":1760,"y":481},{"s":"b","x":1790,"y":480},
{"s":"c","x":700,"y":220},{"s":"c","x":750,"y":222},{"s":"c","x":765,"y":230},{"s":"c","x":773,"y":245},{"s":"c","x":780,"y":228},{"s":"c","x":790,"y":236},{"s":"c","x":800,"y":232},{"s":"c","x":814,"y":245},{"s":"c","x":822,"y":232},{"s":"c","x":835,"y":240},{"s":"c","x":845,"y":248},{"s":"c","x":855,"y":273},{"s":"c","x":862,"y":240},{"s":"c","x":875,"y":225},{"s":"c","x":890,"y":224},{"s":"c","x":905,"y":226},{"s":"c","x":920,"y":230},{"s":"c","x":935,"y":240},{"s":"c","x":950,"y":245},{"s":"c","x":958,"y":240},{"s":"c","x":966,"y":252},{"s":"c","x":976,"y":268},{"s":"c","x":984,"y":245},{"s":"c","x":995,"y":226},{"s":"c","x":1010,"y":225},{"s":"c","x":1025,"y":230},{"s":"c","x":1035,"y":238},{"s":"c","x":1045,"y":230},{"s":"c","x":1055,"y":236},{"s":"c","x":1063,"y":245},{"s":"c","x":1070,"y":232},{"s":"c","x":1085,"y":224},{"s":"c","x":1100,"y":228},{"s":"c","x":1111,"y":238},{"s":"c","x":1120,"y":228},{"s":"c","x":1135,"y":232},{"s":"c","x":1145,"y":245},{"s":"c","x":1155,"y":226},{"s":"c","x":1168,"y":224},{"s":"c","x":1180,"y":240},{"s":"c","x":1187,"y":265},{"s":"c","x":1191,"y":285},{"s":"c","x":1196,"y":258},{"s":"c","x":1205,"y":230},{"s":"c","x":1220,"y":225},{"s":"c","x":1235,"y":228},{"s":"c","x":1250,"y":225},{"s":"c","x":1270,"y":223},{"s":"c","x":1290,"y":228},{"s":"c","x":1300,"y":225},{"s":"c","x":1320,"y":230},{"s":"c","x":1330,"y":238},{"s":"c","x":1340,"y":226},{"s":"c","x":1355,"y":232},{"s":"c","x":1363,"y":242},{"s":"c","x":1372,"y":228},{"s":"c","x":1390,"y":226},{"s":"c","x":1405,"y":240},{"s":"c","x":1412,"y":280},{"s":"c","x":1417,"y":320},{"s":"c","x":1422,"y":280},{"s":"c","x":1430,"y":235},{"s":"c","x":1445,"y":228},{"s":"c","x":1460,"y":232},{"s":"c","x":1472,"y":250},{"s":"c","x":1478,"y":330},{"s":"c","x":1482,"y":420},{"s":"c","x":1485,"y":460},{"s":"c","x":1488,"y":410},{"s":"c","x":1492,"y":360},{"s":"c","x":1498,"y":350},{"s":"c","x":1503,"y":345},{"s":"c","x":1508,"y":310},{"s":"c","x":1514,"y":280},{"s":"c","x":1519,"y":285},{"s":"c","x":1524,"y":262},{"s":"c","x":1532,"y":240},{"s":"c","x":1545,"y":226},{"s":"c","x":1580,"y":221},{"s":"c","x":1650,"y":220},{"s":"c","x":1700,"y":221},{"s":"c","x":1717,"y":230},{"s":"c","x":1727,"y":250},{"s":"c","x":1736,"y":228},{"s":"c","x":1760,"y":221},{"s":"c","x":1790,"y":220},
{"s":"d","x":700,"y":5},{"s":"d","x":750,"y":7},{"s":"d","x":765,"y":15},{"s":"d","x":772,"y":25},{"s":"d","x":781,"y":35},{"s":"d","x":790,"y":22},{"s":"d","x":800,"y":18},{"s":"d","x":810,"y":30},{"s":"d","x":815,"y":25},{"s":"d","x":825,"y":35},{"s":"d","x":833,"y":18},{"s":"d","x":843,"y":30},{"s":"d","x":850,"y":40},{"s":"d","x":855,"y":48},{"s":"d","x":860,"y":28},{"s":"d","x":870,"y":12},{"s":"d","x":880,"y":10},{"s":"d","x":895,"y":12},{"s":"d","x":910,"y":18},{"s":"d","x":925,"y":22},{"s":"d","x":935,"y":30},{"s":"d","x":945,"y":35},{"s":"d","x":955,"y":20},{"s":"d","x":965,"y":35},{"s":"d","x":972,"y":50},{"s":"d","x":976,"y":57},{"s":"d","x":982,"y":38},{"s":"d","x":992,"y":15},{"s":"d","x":1005,"y":10},{"s":"d","x":1015,"y":15},{"s":"d","x":1028,"y":22},{"s":"d","x":1036,"y":28},{"s":"d","x":1045,"y":15},{"s":"d","x":1055,"y":25},{"s":"d","x":1063,"y":44},{"s":"d","x":1070,"y":20},{"s":"d","x":1085,"y":10},{"s":"d","x":1100,"y":15},{"s":"d","x":1111,"y":35},{"s":"d","x":1118,"y":14},{"s":"d","x":1130,"y":12},{"s":"d","x":1140,"y":22},{"s":"d","x":1147,"y":40},{"s":"d","x":1151,"y":45},{"s":"d","x":1156,"y":22},{"s":"d","x":1170,"y":10},{"s":"d","x":1180,"y":20},{"s":"d","x":1187,"y":40},{"s":"d","x":1191,"y":53},{"s":"d","x":1196,"y":35},{"s":"d","x":1205,"y":15},{"s":"d","x":1220,"y":14},{"s":"d","x":1235,"y":12},{"s":"d","x":1250,"y":15},{"s":"d","x":1265,"y":10},{"s":"d","x":1280,"y":8},{"s":"d","x":1295,"y":12},{"s":"d","x":1310,"y":8},{"s":"d","x":1325,"y":15},{"s":"d","x":1335,"y":22},{"s":"d","x":1345,"y":12},{"s":"d","x":1355,"y":18},{"s":"d","x":1363,"y":26},{"s":"d","x":1372,"y":12},{"s":"d","x":1390,"y":10},{"s":"d","x":1405,"y":20},{"s":"d","x":1415,"y":40},{"s":"d","x":1422,"y":60},{"s":"d","x":1430,"y":85},{"s":"d","x":1437,"y":55},{"s":"d","x":1445,"y":20},{"s":"d","x":1460,"y":15},{"s":"d","x":1470,"y":25},{"s":"d","x":1480,"y":50},{"s":"d","x":1488,"y":110},{"s":"d","x":1494,"y":170},{"s":"d","x":1498,"y":210},{"s":"d","x":1502,"y":195},{"s":"d","x":1507,"y":175},{"s":"d","x":1512,"y":170},{"s":"d","x":1518,"y":165},{"s":"d","x":1524,"y":125},{"s":"d","x":1530,"y":110},{"s":"d","x":1538,"y":85},{"s":"d","x":1545,"y":70},{"s":"d","x":1552,"y":45},{"s":"d","x":1562,"y":20},{"s":"d","x":1580,"y":8},{"s":"d","x":1650,"y":5},{"s":"d","x":1700,"y":6},{"s":"d","x":1715,"y":15},{"s":"d","x":1722,"y":30},{"s":"d","x":1727,"y":40},{"s":"d","x":1733,"y":30},{"s":"d","x":1745,"y":10},{"s":"d","x":1790,"y":5}
]
},
"concat": [
 {"width": 272, "height": 191, "title": {"text": "VCD", "offset": 18}, "view": {"stroke": "#000", "strokeWidth": 1.5},
  "resolve": {"axis": {"x": "independent", "y": "independent"}},
  "layer": [
   {"data": {"name": "vcd"}, "mark": "line",
    "encoding": {
     "x": {"field": "x", "type": "quantitative", "scale": {"domain": [700, 1800], "nice": false, "zero": false}, "axis": {"values": [800, 1200, 1600], "format": "d", "title": "ν (cm⁻¹)"}},
     "y": {"field": "y", "type": "quantitative", "scale": {"domain": [-0.005, 0.03], "nice": false, "zero": false}, "axis": {"values": [0, 0.01, 0.02, 0.03], "format": ".2f", "title": "Δε", "titlePadding": 14, "labelOverlap": false}},
     "detail": {"field": "s"}}},
   {"data": {"values": [{"x": 845, "y": 0.0276, "t": "a"}, {"x": 858, "y": 0.0188, "t": "b"}, {"x": 837, "y": 0.0102, "t": "c"}, {"x": 833, "y": 0.002, "t": "d"}]},
    "mark": "text",
    "encoding": {"x": {"field": "x", "type": "quantitative", "axis": null}, "y": {"field": "y", "type": "quantitative", "axis": null}, "text": {"field": "t"}}}
  ]},
 {"width": 270, "height": 190, "title": {"text": "ROA", "offset": 24}, "view": {"stroke": "#000", "strokeWidth": 1.5},
  "resolve": {"axis": {"x": "independent", "y": "independent"}},
  "layer": [
   {"data": {"name": "roa"}, "mark": "line",
    "encoding": {
     "x": {"field": "x", "type": "quantitative", "scale": {"domain": [700, 1790], "nice": false, "zero": false}, "axis": {"values": [800, 1200, 1600], "format": "d", "title": "ν (cm⁻¹)"}},
     "y": {"field": "y", "type": "quantitative", "scale": {"domain": [-3500, 13000], "nice": false, "zero": false}, "axis": {"values": [0, 4000, 8000, 12000], "format": "d", "title": "(Iᴿ-Iᴸ)x10⁴", "titleFontSize": 21, "labelFontSize": 14, "labelPadding": 16, "titlePadding": 13, "labelOverlap": false}},
     "detail": {"field": "s"}}},
   {"data": {"values": [{"x": 1460}]}, "mark": {"type": "rule", "color": "#000", "strokeWidth": 1.8},
    "encoding": {"x": {"field": "x", "type": "quantitative", "axis": null}}},
   {"data": {"values": [{"x": 870, "y": 11960, "t": "a"}, {"x": 877, "y": 7620, "t": "b"}, {"x": 877, "y": 3710, "t": "c"}, {"x": 870, "y": 960, "t": "d"}, {"x": 1315, "y": 7770, "t": "(4x)"}]},
    "mark": "text",
    "encoding": {"x": {"field": "x", "type": "quantitative", "axis": null}, "y": {"field": "y", "type": "quantitative", "axis": null}, "text": {"field": "t"}, "size": {"condition": {"test": "datum.t === '(4x)'", "value": 15}, "value": 17}, "color": {"condition": {"test": "datum.t === '(4x)'", "value": "#444"}, "value": "#000"}}}
  ]},
 {"width": 272, "height": 190, "title": {"text": "IR", "offset": 13}, "view": {"stroke": "#000", "strokeWidth": 1.5},
  "resolve": {"axis": {"x": "independent", "y": "independent"}},
  "layer": [
   {"data": {"name": "ir"}, "mark": "line",
    "encoding": {
     "x": {"field": "x", "type": "quantitative", "scale": {"domain": [700, 1800], "nice": false, "zero": false}, "axis": {"values": [800, 1200, 1600], "format": "d", "title": "ν (cm⁻¹)"}},
     "y": {"field": "y", "type": "quantitative", "scale": {"domain": [0, 200], "nice": false}, "axis": {"values": [0, 50, 100, 150, 200], "format": "d", "title": "ε", "titlePadding": 16, "labelOverlap": false}},
     "detail": {"field": "s"}}},
   {"data": {"values": [{"x": 872, "y": 172, "t": "a"}, {"x": 872, "y": 118, "t": "b"}, {"x": 872, "y": 69, "t": "c"}, {"x": 872, "y": 23.5, "t": "d"}]},
    "mark": "text",
    "encoding": {"x": {"field": "x", "type": "quantitative", "axis": null}, "y": {"field": "y", "type": "quantitative", "axis": null}, "text": {"field": "t"}}}
  ]},
 {"width": 270, "height": 189, "title": {"text": "Raman", "offset": 18}, "view": {"stroke": "#000", "strokeWidth": 1.5},
  "resolve": {"axis": {"x": "independent", "y": "independent"}},
  "layer": [
   {"data": {"name": "raman"}, "mark": "line",
    "encoding": {
     "x": {"field": "x", "type": "quantitative", "scale": {"domain": [700, 1790], "nice": false, "zero": false}, "axis": {"values": [800, 1200, 1600], "format": "d", "title": "ν (cm⁻¹)"}},
     "y": {"field": "y", "type": "quantitative", "scale": {"domain": [0, 1000], "nice": false}, "axis": {"values": [0, 200, 400, 600, 800, 1000], "format": "d", "title": "Iᴿ+Iᴸ", "labelFontSize": 17, "labelPadding": 4, "titlePadding": 29, "labelOverlap": false}},
     "detail": {"field": "s"}}},
   {"data": {"values": [{"x": 879, "y": 900, "t": "a"}, {"x": 879, "y": 600, "t": "b"}, {"x": 877, "y": 326, "t": "c"}, {"x": 873, "y": 104, "t": "d"}]},
    "mark": "text",
    "encoding": {"x": {"field": "x", "type": "quantitative", "axis": null}, "y": {"field": "y", "type": "quantitative", "axis": null}, "text": {"field": "t"}}}
  ]}
]
}
